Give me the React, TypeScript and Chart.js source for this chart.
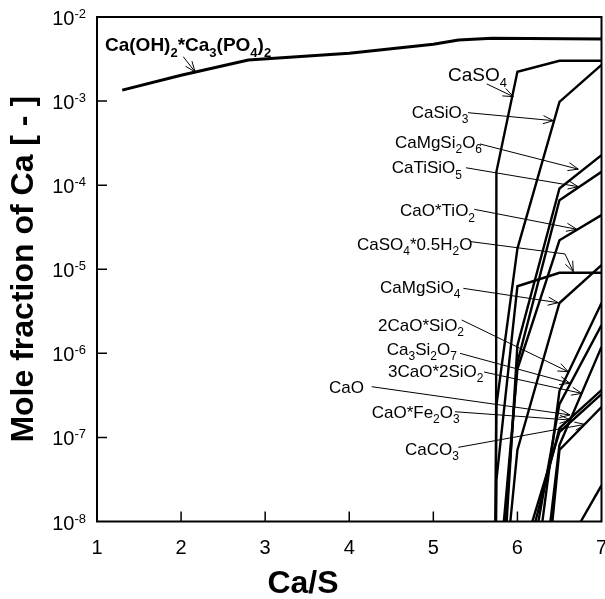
import { useEffect, useRef } from 'react';
import { Chart, registerables } from 'chart.js';

Chart.register(...registerables);

// ---- axes ----
const xTickValues = [1, 2, 3, 4, 5, 6, 7];
const xTickLabels = ['1', '2', '3', '4', '5', '6', '7'];
const yTickValues = [1e-2, 1e-3, 1e-4, 1e-5, 1e-6, 1e-7, 1e-8];
const yTickBase = '10';
const yTickExponents = ['-2', '-3', '-4', '-5', '-6', '-7', '-8'];
const xTitle = 'Ca/S';
const yTitle = 'Mole fraction of Ca [ - ]';

// ---- series (x = Ca/S, y = mole fraction of Ca) ----
const hapX = [1.3, 2.0, 2.8, 4.0, 5.0, 5.3, 5.7, 7.0];
const hapY = [1.35e-3, 2.03e-3, 3.08e-3, 3.7e-3, 4.73e-3, 5.32e-3, 5.57e-3, 5.47e-3];

const caso4X = [5.74, 5.75, 6.0, 6.5, 7.0];
const caso4Y = [1e-12, 1.44e-4, 2.23e-3, 3.02e-3, 3.02e-3];

const casio3X = [5.7, 5.75, 6.0, 6.5, 7.0];
const casio3Y = [1e-12, 2.4e-7, 1.76e-5, 9.8e-4, 2.69e-3];

const camgsi2o6X = [5.75, 6.0, 6.5, 7.0];
const camgsi2o6Y = [1.0e-10, 1.24e-6, 9.14e-5, 2.28e-4];

const catisio5X = [5.75, 6.0, 6.5, 7.0];
const catisio5Y = [3.9e-10, 7.8e-7, 6.62e-5, 1.44e-4];

const caotio2X = [5.75, 6.0, 6.5, 7.0];
const caotio2Y = [1e-9, 6.5e-7, 2.21e-5, 4.4e-5];

const caso4hhX = [5.7, 5.75, 6.0, 6.5, 7.0];
const caso4hhY = [1e-12, 3.1e-8, 6.28e-6, 9.08e-6, 9.08e-6];

const camgsio4X = [5.75, 6.0, 6.5, 7.0];
const camgsio4Y = [2.1e-10, 7.1e-8, 3.97e-6, 1.12e-5];

const c2sX = [6.0, 6.5, 7.0];
const c2sY = [5.4e-11, 3.56e-7, 3.96e-6];

const ca3si2o7X = [6.0, 6.5, 7.0];
const ca3si2o7Y = [4.1e-10, 2.49e-7, 2.17e-6];

const c3s2X = [6.0, 6.5, 7.0];
const c3s2Y = [4.8e-12, 8.1e-8, 1.19e-6];

const caoX = [6.0, 6.5, 7.0];
const caoY = [1.48e-9, 1.29e-7, 3.66e-7];

const caofeX = [6.0, 6.5, 7.0];
const caofeY = [2.6e-9, 1.16e-7, 3.28e-7];

const caco3X = [6.0, 6.5, 7.0];
const caco3Y = [5.9e-13, 7.1e-8, 2.3e-7];

const otherX = [6.5, 7.0];
const otherY = [3.6e-9, 2.69e-8];

const seriesX = [hapX, caso4X, casio3X, camgsi2o6X, catisio5X, caotio2X, caso4hhX, camgsio4X, c2sX, ca3si2o7X, c3s2X, caoX, caofeX, caco3X, otherX];
const seriesY = [hapY, caso4Y, casio3Y, camgsi2o6Y, catisio5Y, caotio2Y, caso4hhY, camgsio4Y, c2sY, ca3si2o7Y, c3s2Y, caoY, caofeY, caco3Y, otherY];

// ---- annotations ("_" marks a subscript character) ----
const annoLabels = [
  'Ca(OH)_2*Ca_3(PO_4)_2', 'CaSO_4', 'CaSiO_3', 'CaMgSi_2O_6', 'CaTiSiO_5', 'CaO*TiO_2',
  'CaSO_4*0.5H_2O', 'CaMgSiO_4', '2CaO*SiO_2', 'Ca_3Si_2O_7', '3CaO*2SiO_2', 'CaO', 'CaO*Fe_2O_3', 'CaCO_3',
];
// text anchor (left, baseline) in data units
const annoTextX = [1.095, 5.175, 4.743, 4.544, 4.505, 4.604, 4.092, 4.366, 4.342, 4.446, 4.461, 3.759, 4.267, 4.663];
const annoTextY = [3.94e-3, 1.73e-3, 6.29e-4, 2.77e-4, 1.38e-4, 4.24e-5, 1.69e-5, 5.21e-6, 1.84e-6, 9.55e-7, 5.3e-7, 3.37e-7, 1.7e-7, 6.18e-8];
// leader paths in data units: [x, y] points, last one is the arrow tip
const annoPaths: number[][][] = [
  [[2.026, 3.37e-3], [2.166, 2.23e-3]],
  [[5.635, 1.6e-3], [5.951, 1.13e-3]],
  [[5.412, 7.28e-4], [6.427, 5.85e-4]],
  [[5.555, 3.09e-4], [6.724, 1.55e-4]],
  [[5.389, 1.61e-4], [6.724, 9.59e-5]],
  [[5.487, 5.16e-5], [6.705, 2.99e-5]],
  [[5.445, 2.13e-5], [6.566, 1.52e-5], [6.665, 9.35e-6]],
  [[5.357, 5.93e-6], [6.486, 4.0e-6]],
  [[5.338, 2.49e-6], [6.605, 6.04e-7]],
  [[5.317, 1.0e-6], [6.626, 4.4e-7]],
  [[5.603, 6.0e-7], [6.765, 3.34e-7]],
  [[4.267, 4.01e-7], [6.626, 1.85e-7]],
  [[5.258, 2.02e-7], [6.626, 1.61e-7]],
  [[5.297, 7.62e-8], [6.804, 1.43e-7]],
];

const FONT = '"Liberation Sans", Arial, Helvetica, sans-serif';

function drawRich(ctx: CanvasRenderingContext2D, text: string, x: number, y: number, size: number, bold: boolean) {
  const w = bold ? 'bold ' : '';
  let cx = x;
  let i = 0;
  while (i < text.length) {
    if (text[i] === '_') {
      const ch = text[i + 1];
      ctx.font = `${w}${Math.round(size * 0.7)}px ${FONT}`;
      ctx.fillText(ch, cx, y + size * 0.3);
      cx += ctx.measureText(ch).width;
      i += 2;
    } else {
      let j = i;
      while (j < text.length && text[j] !== '_') j++;
      const run = text.slice(i, j);
      ctx.font = `${w}${size}px ${FONT}`;
      ctx.fillText(run, cx, y);
      cx += ctx.measureText(run).width;
      i = j;
    }
  }
}

const framePlugin = {
  id: 'framePlugin',
  afterDraw(chart: any) {
    const { ctx, chartArea: a, scales } = chart;
    const xs = scales.x;
    const ys = scales.y;
    ctx.save();
    ctx.strokeStyle = '#000';
    ctx.fillStyle = '#000';
    // frame
    ctx.lineWidth = 2;
    ctx.strokeRect(a.left, a.top, a.right - a.left, a.bottom - a.top);
    // inward ticks
    ctx.lineWidth = 1.5;
    ctx.beginPath();
    xTickValues.forEach((v) => {
      const px = xs.getPixelForValue(v);
      if (px > a.left + 2 && px < a.right - 2) {
        ctx.moveTo(px, a.bottom);
        ctx.lineTo(px, a.bottom - 10);
      }
    });
    yTickValues.forEach((v) => {
      const py = ys.getPixelForValue(v);
      if (py > a.top + 2 && py < a.bottom - 2) {
        ctx.moveTo(a.left, py);
        ctx.lineTo(a.left + 10, py);
      }
    });
    ctx.stroke();
    // x tick labels
    ctx.textAlign = 'center';
    ctx.textBaseline = 'alphabetic';
    ctx.font = `20px ${FONT}`;
    xTickValues.forEach((v, i) => {
      ctx.fillText(xTickLabels[i], xs.getPixelForValue(v), a.bottom + 32);
    });
    // y tick labels 10^n
    ctx.textAlign = 'left';
    yTickValues.forEach((v, i) => {
      const py = ys.getPixelForValue(v);
      ctx.font = `13px ${FONT}`;
      const ew = ctx.measureText(yTickExponents[i]).width;
      ctx.font = `20px ${FONT}`;
      const bw = ctx.measureText(yTickBase).width;
      const right = a.left - 11;
      ctx.fillText(yTickBase, right - ew - bw, py + 8);
      ctx.font = `13px ${FONT}`;
      ctx.fillText(yTickExponents[i], right - ew, py + 1);
    });
    // axis titles
    ctx.font = `bold 32px ${FONT}`;
    ctx.textAlign = 'center';
    ctx.textBaseline = 'middle';
    ctx.fillText(xTitle, 303, 584);
    ctx.save();
    ctx.translate(24, (a.top + a.bottom) / 2);
    ctx.rotate(-Math.PI / 2);
    ctx.fillText(yTitle, 0, 0);
    ctx.restore();
    // annotations
    ctx.textAlign = 'left';
    ctx.textBaseline = 'alphabetic';
    annoLabels.forEach((lab, i) => {
      const tx = xs.getPixelForValue(annoTextX[i]);
      const ty = ys.getPixelForValue(annoTextY[i]);
      const size = i === 1 ? 19 : i === 0 ? 19 : 17;
      drawRich(ctx, lab, tx, ty, size, i === 0);
      const pts = annoPaths[i].map(([px, py]) => [xs.getPixelForValue(px), ys.getPixelForValue(py)]);
      ctx.lineWidth = 1;
      ctx.beginPath();
      ctx.moveTo(pts[0][0], pts[0][1]);
      for (let k = 1; k < pts.length; k++) ctx.lineTo(pts[k][0], pts[k][1]);
      ctx.stroke();
      const [ex, ey] = pts[pts.length - 1];
      const [sx, sy] = pts[pts.length - 2];
      const ang = Math.atan2(ey - sy, ex - sx);
      const hl = 11;
      const ha = 0.38;
      ctx.beginPath();
      ctx.moveTo(ex - hl * Math.cos(ang - ha), ey - hl * Math.sin(ang - ha));
      ctx.lineTo(ex, ey);
      ctx.lineTo(ex - hl * Math.cos(ang + ha), ey - hl * Math.sin(ang + ha));
      ctx.stroke();
    });
    ctx.restore();
  },
};

export default function App() {
  const ref = useRef<HTMLCanvasElement | null>(null);
  useEffect(() => {
    if (!ref.current) return;
    const datasets = seriesX.map((xs, i) => ({
      data: xs.map((x, k) => ({ x, y: seriesY[i][k] })),
      borderColor: '#000',
      borderWidth: i === 0 ? 3 : 2.4,
      pointRadius: 0,
      fill: false,
      tension: 0,
    }));
    const chart = new Chart(ref.current, {
      type: 'line',
      data: { datasets },
      options: {
        animation: false,
        responsive: false,
        devicePixelRatio: 1,
        layout: { padding: { left: 0, top: 17, right: 3.5, bottom: 0 } },
        plugins: { legend: { display: false }, tooltip: { enabled: false } },
        scales: {
          x: {
            type: 'linear',
            min: 1,
            max: 7,
            grid: { display: false },
            border: { display: false },
            ticks: { display: false },
            afterFit: (s: any) => { s.height = 77.5; },
          },
          y: {
            type: 'logarithmic',
            min: 1e-8,
            max: 1e-2,
            grid: { display: false },
            border: { display: false },
            ticks: { display: false },
            afterFit: (s: any) => { s.width = 97; },
          },
        },
      },
      plugins: [framePlugin],
    });
    return () => chart.destroy();
  }, []);
  return (
    <div style={{ position: 'fixed', left: 0, top: 0, width: 605, height: 599, background: '#fff' }}>
      <canvas ref={ref} width={605} height={599} style={{ width: 605, height: 599 }} />
    </div>
  );
}
